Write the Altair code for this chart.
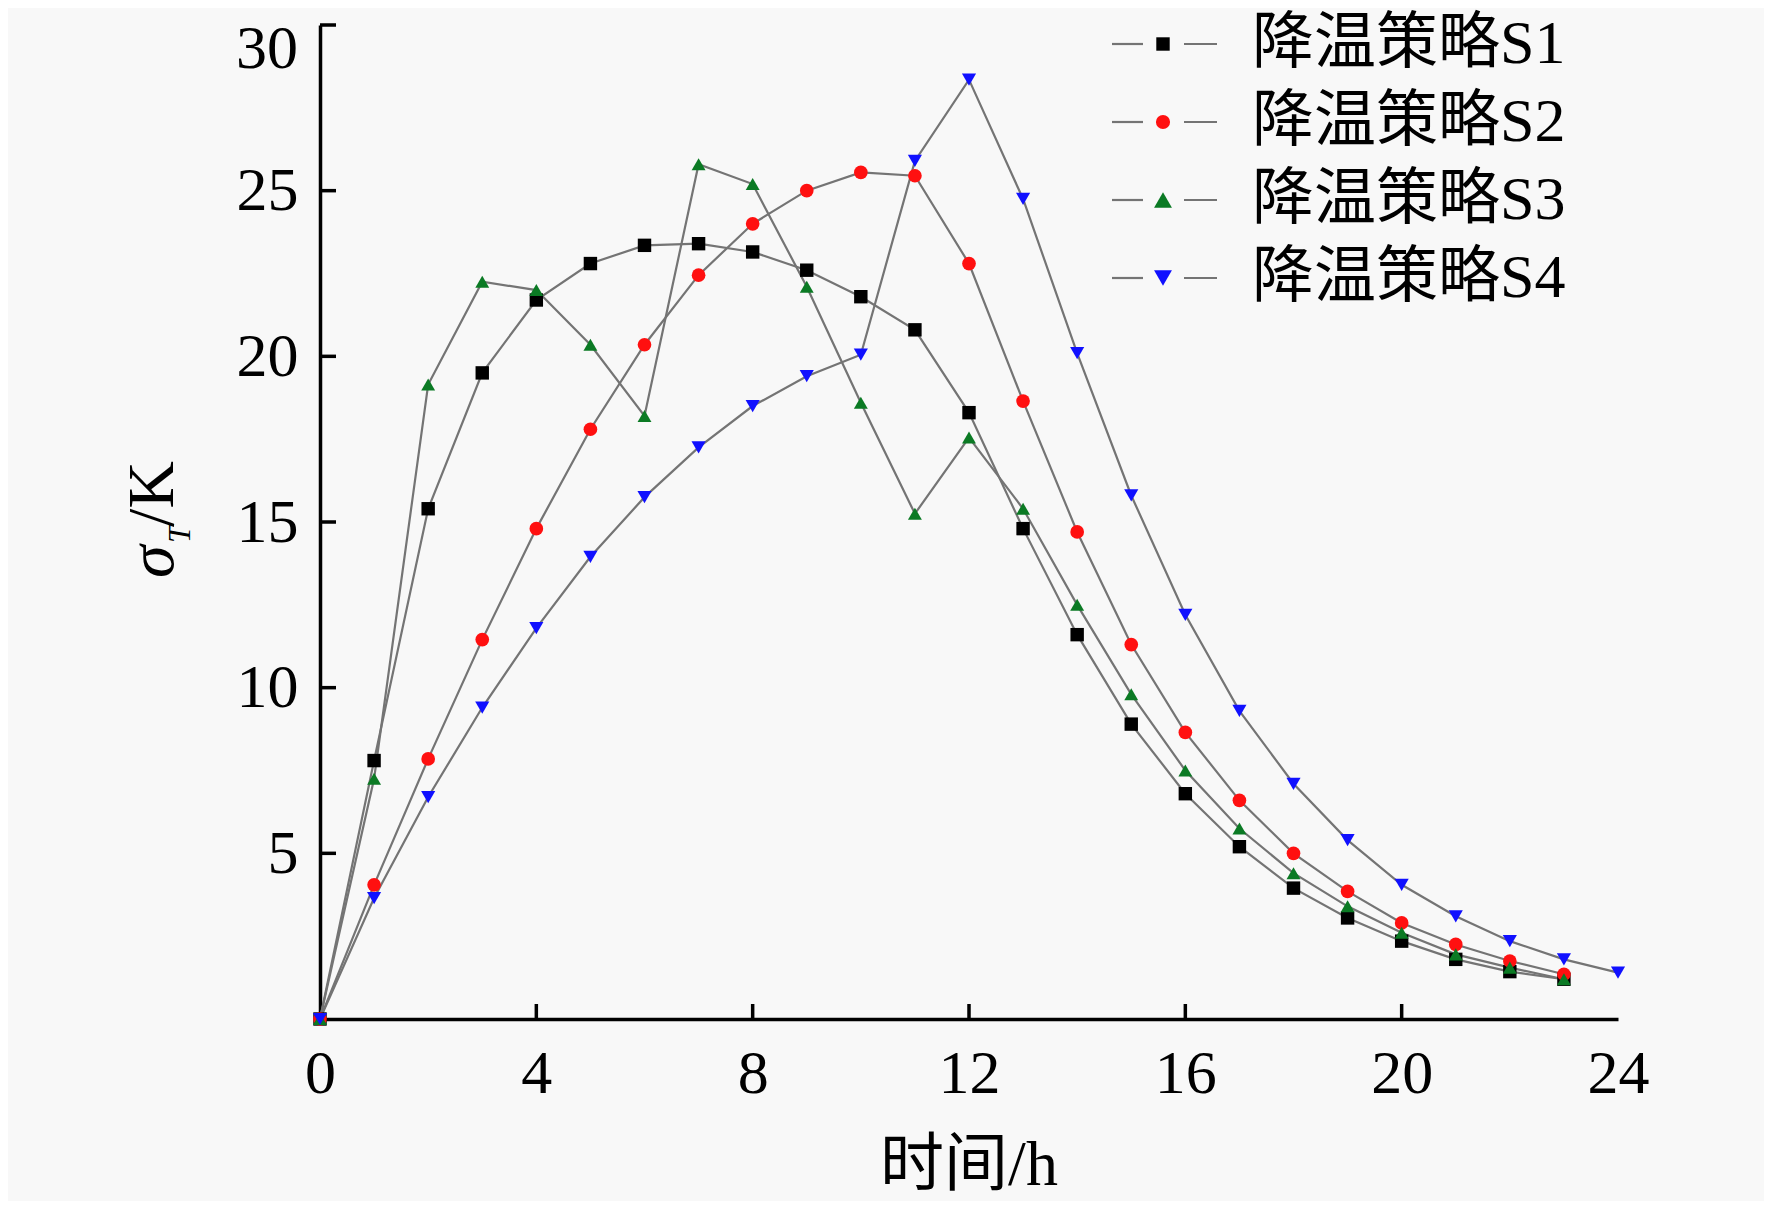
import altair as alt
import pandas as pd

# ---------------- data ----------------
hours = list(range(0, 25))
names = ["降温策略S1", "降温策略S2", "降温策略S3", "降温策略S4"]
s1 = [0, 7.8, 15.4, 19.5, 21.7, 22.8, 23.35, 23.4, 23.15, 22.6, 21.8, 20.8, 18.3,
      14.8, 11.6, 8.9, 6.8, 5.2, 3.95, 3.05, 2.35, 1.8, 1.43, 1.2]
s2 = [0, 4.05, 7.85, 11.45, 14.8, 17.8, 20.35, 22.45, 24.0, 25.0, 25.55, 25.45, 22.8,
      18.65, 14.7, 11.3, 8.65, 6.6, 5.0, 3.85, 2.9, 2.25, 1.75, 1.35]
s3 = [0, 7.25, 19.15, 22.25, 22.0, 20.35, 18.2, 25.8, 25.2, 22.1, 18.6, 15.25, 17.55,
      15.4, 12.5, 9.8, 7.5, 5.75, 4.4, 3.4, 2.6, 1.95, 1.55, 1.2]
s4 = [0, 3.65, 6.7, 9.4, 11.8, 13.95, 15.75, 17.25, 18.5, 19.4, 20.05, 25.9, 28.35,
      24.75, 20.1, 15.8, 12.2, 9.3, 7.1, 5.4, 4.05, 3.1, 2.35, 1.8, 1.4]
series_values = [s1, s2, s3, s4]
colors = ["#000000", "#ff1010", "#0b7a24", "#1010ff"]
shapes = ["square", "circle", "triangle-up", "triangle-down"]
marker_sizes = [180, 200, 320, 320]
x_ticks = [0, 4, 8, 12, 16, 20, 24]
y_ticks = [5, 10, 15, 20, 25, 30]

rows = []
for n, vals in zip(names, series_values):
    for h, v in zip(hours, vals):
        rows.append({"h": h, "v": v, "s": n})
df = pd.DataFrame(rows)

# ---------------- layout ----------------
W, H = 1298, 994
SERIF = "Liberation Serif, Times New Roman, Noto Sans CJK SC"
LINE_GRAY = "#747474"

x_scale = alt.Scale(domain=[0, 24], nice=False, zero=False)
y_scale = alt.Scale(domain=[0, 30], nice=False, zero=False)
color_scale = alt.Scale(domain=names, range=colors)
shape_scale = alt.Scale(domain=names, range=shapes)
size_scale = alt.Scale(domain=names, range=marker_sizes)

x_axis = alt.Axis(values=x_ticks, title=None, ticks=False, tickSize=0, grid=False,
                  domainColor="black", domainWidth=3.5, labelFont=SERIF,
                  labelFontSize=62, labelColor="black", labelPadding=24,
                  labelFlush=False, labelOverlap=False)
y_axis = alt.Axis(values=y_ticks[:-1], title=None, ticks=False, tickSize=0, grid=False,
                  domainColor="black", domainWidth=3.5, labelFont=SERIF,
                  labelFontSize=62, labelColor="black", labelPadding=22,
                  labelFlush=False, labelOverlap=False)

base = alt.Chart(df)
lines = base.mark_line(interpolate="linear", color=LINE_GRAY, strokeWidth=2.2).encode(
    x=alt.X("h:Q", scale=x_scale, axis=x_axis),
    y=alt.Y("v:Q", scale=y_scale, axis=y_axis),
    detail="s:N",
)
points = base.mark_point(filled=True, opacity=1).encode(
    x=alt.X("h:Q", scale=x_scale),
    y=alt.Y("v:Q", scale=y_scale),
    color=alt.Color("s:N", scale=color_scale, legend=None),
    shape=alt.Shape("s:N", scale=shape_scale, legend=None),
    size=alt.Size("s:N", scale=size_scale, legend=None),
)

# inward ticks
xt = alt.Chart(pd.DataFrame({"t": x_ticks[1:-1]})).mark_rule(color="black", strokeWidth=3.5).encode(
    x=alt.X("t:Q", scale=x_scale), y=alt.value(H), y2=alt.value(H - 15))
yt = alt.Chart(pd.DataFrame({"t": y_ticks})).mark_rule(color="black", strokeWidth=3.5).encode(
    y=alt.Y("t:Q", scale=y_scale), x=alt.value(0), x2=alt.value(16))

# top y label kept inside the page
top_lab = alt.Chart(pd.DataFrame({"t": [y_ticks[-1]]})).mark_text(
    font=SERIF, fontSize=62, color="black", align="right", baseline="top", dy=-6).encode(
    y=alt.Y("t:Q", scale=y_scale), x=alt.value(-22), text="t:N")

one = pd.DataFrame({"a": [0]})
layers = [lines, points, xt, yt, top_lab]

# custom legend
leg_y = [19, 97, 175, 253]
for n, c, sh, sz, ly in zip(names, colors, shapes, marker_sizes, leg_y):
    layers.append(alt.Chart(one).mark_rule(color=LINE_GRAY, strokeWidth=2.2).encode(
        x=alt.value(792), x2=alt.value(823), y=alt.value(ly)))
    layers.append(alt.Chart(one).mark_rule(color=LINE_GRAY, strokeWidth=2.2).encode(
        x=alt.value(864), x2=alt.value(897), y=alt.value(ly)))
    layers.append(alt.Chart(one).mark_point(filled=True, size=sz, opacity=1, color=c, shape=sh).encode(
        x=alt.value(843), y=alt.value(ly)))
    layers.append(alt.Chart(one).mark_text(text=n, font=SERIF, fontSize=62, color="black",
                                           align="left", baseline="middle").encode(
        x=alt.value(932), y=alt.value(ly)))

# axis titles
layers.append(alt.Chart(one).mark_text(text="时间/h", font=SERIF, fontSize=64, color="black",
                                       align="center", baseline="middle").encode(
    x=alt.value(W / 2), y=alt.value(1141)))
layers.append(alt.Chart(one).mark_text(text="σ", font=SERIF, fontStyle="italic", fontSize=66,
                                       color="black", align="left", baseline="alphabetic",
                                       angle=270).encode(x=alt.value(-147), y=alt.value(553)))
layers.append(alt.Chart(one).mark_text(text="T", font=SERIF, fontStyle="italic", fontSize=32,
                                       color="black", align="left", baseline="alphabetic",
                                       angle=270).encode(x=alt.value(-130), y=alt.value(518)))
layers.append(alt.Chart(one).mark_text(text="/K", font=SERIF, fontSize=66,
                                       color="black", align="left", baseline="alphabetic",
                                       angle=270).encode(x=alt.value(-147), y=alt.value(502)))

chart = alt.layer(*layers).properties(
    width=W, height=H,
    autosize=alt.AutoSizeParams(type="none"),
    padding={"left": 312, "top": 17, "right": 146, "bottom": 182},
    background="#f8f8f8",
).configure_view(stroke=None)

chart.save("out.html", embed_options={"renderer": "svg", "actions": False})
